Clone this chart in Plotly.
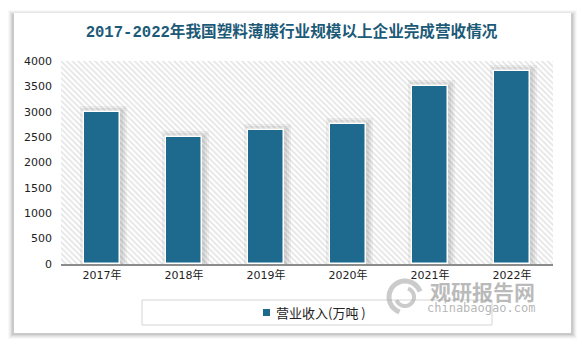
import math
import plotly.graph_objects as go

years = ["2017年", "2018年", "2019年", "2020年", "2021年", "2022年"]
revenue = [3000, 2500, 2650, 2750, 3510, 3800]
series_name = "营业收入(万吨 )"
title_text = "2017-2022年我国塑料薄膜行业规模以上企业完成营收情况"
y_ticks = [0, 500, 1000, 1500, 2000, 2500, 3000, 3500, 4000]

W, H = 583, 345
ML, MR, MT, MB = 61, 30, 61, 81
PW, PH = W - ML - MR, H - MT - MB

def px_x(x):
    return (x - ML) / PW

def px_y(y):
    return (H - MB - y) / PH

xs = list(range(len(years)))
bar_w = 0.43
ymax = y_ticks[-1]
ux = len(years) / PW      # data units per pixel (x)
uy = ymax / PH            # data units per pixel (y)
BAR_COLOR = "#1d6a8e"

fig = go.Figure()

# hatched plot background
fig.add_trace(go.Bar(
    x=[(len(years) - 1) / 2], y=[ymax], width=[len(years)],
    marker=dict(color="white", line=dict(width=0),
                pattern=dict(shape="\\", fgcolor="#c8c8c8", bgcolor="white", size=4, solidity=0.4)),
    showlegend=False, hoverinfo="skip"))

# soft shadow behind bars
for k in [6, 4, 2]:
    fig.add_trace(go.Bar(
        x=xs, y=[v + k * uy for v in revenue],
        width=bar_w + 2 * k * ux, offset=-bar_w / 2 - k * ux + 1.5 * ux,
        marker=dict(color="rgba(0,0,0,0.05)", line=dict(width=0)),
        showlegend=False, hoverinfo="skip"))

fig.add_trace(go.Bar(
    x=xs, y=revenue, width=bar_w, name=series_name, showlegend=False,
    marker=dict(color=BAR_COLOR, line=dict(color="white", width=1.5))))

shapes = []
# card shadow
for i, a in enumerate([0.025, 0.035, 0.045, 0.055, 0.065]):
    d = 6 - i
    shapes.append(dict(type="rect", xref="paper", yref="paper", layer="below",
                       x0=px_x(14 - d), x1=px_x(571 + d), y0=px_y(333 + d), y1=px_y(13 - d + 3),
                       fillcolor=f"rgba(0,0,0,{a})", line=dict(width=0)))
shapes.append(dict(type="rect", xref="paper", yref="paper", layer="below",
                   x0=px_x(14), x1=px_x(571), y0=px_y(333), y1=px_y(13),
                   fillcolor="white", line=dict(width=0)))
# legend box + marker
shapes.append(dict(type="rect", xref="paper", yref="paper",
                   x0=px_x(142), x1=px_x(492), y0=px_y(325), y1=px_y(300),
                   fillcolor="rgba(0,0,0,0)", line=dict(color="#d4d4d4", width=1)))
shapes.append(dict(type="rect", xref="paper", yref="paper",
                   x0=px_x(263), x1=px_x(270), y0=px_y(316), y1=px_y(309),
                   fillcolor=BAR_COLOR, line=dict(width=0)))

# watermark logo (swirl)
def arc_path(cx, cy, r, a0, a1, n=24):
    pts = []
    for i in range(n + 1):
        a = math.radians(a0 + (a1 - a0) * i / n)
        pts.append((px_x(cx + r * math.cos(a)), px_y(cy - r * math.sin(a))))
    return "M " + " L ".join(f"{x:.5f},{y:.5f}" for x, y in pts)

for (r, a0, a1, w) in [(16, 20, 250, 5), (9, 200, 430, 4)]:
    shapes.append(dict(type="path", xref="paper", yref="paper", path=arc_path(405, 297, r, a0, a1),
                       line=dict(color="rgba(160,160,160,0.55)", width=w)))

annotations = [
    dict(text="观研报告网", xref="paper", yref="paper", x=px_x(537), y=px_y(291),
         xanchor="right", yanchor="middle", showarrow=False,
         font=dict(family="Noto Sans CJK SC", size=21, color="rgba(140,140,140,0.6)", weight="bold")),
    dict(text="chinabaogao.com", xref="paper", yref="paper", x=px_x(537), y=px_y(308),
         xanchor="right", yanchor="middle", showarrow=False,
         font=dict(family="DejaVu Sans Mono", size=12, color="rgba(140,140,140,0.65)")),
    dict(text=series_name, xref="paper", yref="paper", x=px_x(274), y=px_y(312.5),
         xanchor="left", yanchor="middle", showarrow=False,
         font=dict(family="Noto Sans CJK SC", size=13, color="#222")),
]

fig.update_layout(
    width=W, height=H,
    margin=dict(l=ML, r=MR, t=MT, b=MB, pad=0),
    paper_bgcolor="white", plot_bgcolor="rgba(0,0,0,0)",
    barmode="overlay", bargap=0, showlegend=False,
    title=dict(text=title_text, x=px_x(291.5), xref="paper", xanchor="center", y=1 - 32 / H, yanchor="middle",
               font=dict(family="Liberation Mono, Noto Sans CJK SC", size=15.6, color="#1c5a78", weight="bold")),
    xaxis=dict(tickvals=xs, ticktext=years, range=[-0.5, len(years) - 0.5],
               showline=True, linecolor="#8c8c8c", linewidth=1.5, showgrid=False, zeroline=False,
               ticks="", tickfont=dict(family="DejaVu Sans, Noto Sans CJK SC", size=11, color="#222")),
    yaxis=dict(range=[0, ymax], tickvals=y_ticks, showgrid=False, zeroline=False, showline=False,
               ticks="", ticklabelstandoff=8,
               tickfont=dict(family="DejaVu Sans", size=11, color="#222")),
    shapes=shapes, annotations=annotations,
)

fig.write_html("out.html")
